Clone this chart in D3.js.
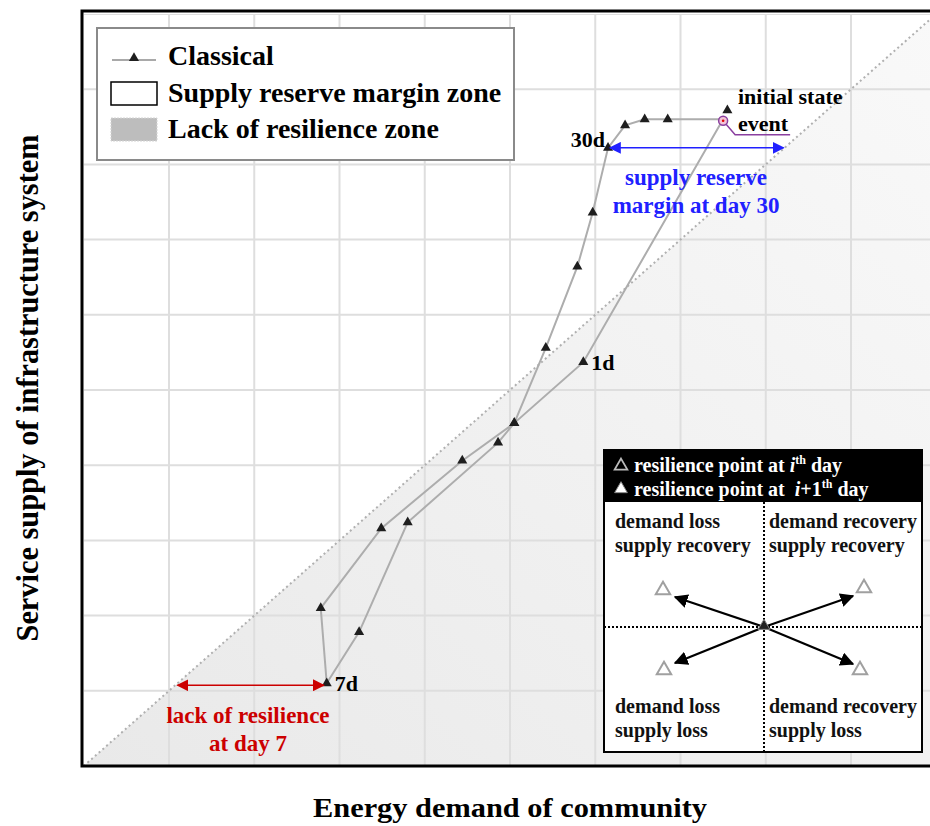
<!DOCTYPE html>
<html><head><meta charset="utf-8">
<script src="https://cdn.jsdelivr.net/npm/d3@7"></script>
<style>
html,body{margin:0;padding:0;background:#fff;overflow:hidden}
text{font-family:"Liberation Serif","Times New Roman",serif;font-weight:bold}
</style></head>
<body>
<svg id="chart" width="930" height="826"></svg>
<script>
// ---- data (demand, supply) in grid units ----
const gridValues = [1,2,3,4,5,6,7,8,9,10];
const classicalDemand = [7.50, 5.86, 5.05, 4.86, 3.80, 3.23, 2.85, 2.78, 3.49, 4.44, 5.05, 5.42, 5.79, 5.97, 6.15, 6.35, 6.58, 6.85, 7.50];
const classicalSupply = [8.60, 5.37, 4.56, 4.30, 3.24, 1.78, 1.10, 2.10, 3.16, 4.06, 4.56, 5.56, 6.64, 7.36, 8.22, 8.52, 8.60, 8.60, 8.60];
const initialState = {demand: 7.55, supply: 8.72};
const eventPoint = {demand: 7.50, supply: 8.58};
const dayLabels = [{label:"1d", idx:1}, {label:"7d", idx:6}, {label:"30d", idx:14}];
const legendItems = ["Classical", "Supply reserve margin zone", "Lack of resilience zone"];
const quadrantLabels = [["demand loss","supply recovery"],["demand recovery","supply recovery"],["demand loss","supply loss"],["demand recovery","supply loss"]];

const svg = d3.select("#chart");
const x = d3.scaleLinear().domain([0,10]).range([83.75, 936.25]);
const y = d3.scaleLinear().domain([0,10]).range([766, 14]);

const defs = svg.append("defs");
const grad = defs.append("linearGradient").attr("id","zone").attr("x1","0").attr("y1","1").attr("x2","1").attr("y2","0");
grad.append("stop").attr("offset","0").attr("stop-color","#e9e9e9");
grad.append("stop").attr("offset","1").attr("stop-color","#f9f9f9");
function arrowMarker(id,color,size){
  const m = defs.append("marker").attr("id",id).attr("viewBox","0 0 10 10").attr("refX",9).attr("refY",5)
    .attr("markerWidth",size).attr("markerHeight",size).attr("orient","auto-start-reverse").attr("markerUnits","userSpaceOnUse");
  m.append("path").attr("d","M0,0 L10,5 L0,10 Z").attr("fill",color);
}
arrowMarker("blueArr","#2020ff",12);
arrowMarker("redArr","#cc0000",12);
arrowMarker("blkArr","#000",14);

const clip = defs.append("clipPath").attr("id","plotclip");
clip.append("rect").attr("x",x(0)).attr("y",y(10)).attr("width",x(10)-x(0)).attr("height",y(0)-y(10));

const plot = svg.append("g").attr("clip-path","url(#plotclip)");
plot.append("path").attr("d",`M${x(0)},${y(0)} L${x(10)},${y(10)} L${x(10)},${y(0)} Z`).attr("fill","url(#zone)");

plot.append("g").selectAll("line").data(gridValues).join("line")
  .attr("x1",d=>x(d)).attr("x2",d=>x(d)).attr("y1",y(0)).attr("y2",y(10))
  .attr("stroke","#dedede").attr("stroke-width",2);
plot.append("g").selectAll("line").data(gridValues).join("line")
  .attr("y1",d=>y(d)).attr("y2",d=>y(d)).attr("x1",x(0)).attr("x2",x(10))
  .attr("stroke","#dedede").attr("stroke-width",2);

plot.append("line").attr("x1",x(0)).attr("y1",y(0)).attr("x2",x(10)).attr("y2",y(10))
  .attr("stroke","#b0b0b0").attr("stroke-width",2).attr("stroke-dasharray","2,3");

svg.append("rect").attr("x",82).attr("y",11).attr("width",900).attr("height",755)
  .attr("fill","none").attr("stroke","#000").attr("stroke-width",3);

// classical path
const pts = classicalDemand.map((d,i)=>[d, classicalSupply[i]]);
svg.append("path").attr("d", d3.line().x(d=>x(d[0])).y(d=>y(d[1]))(pts))
  .attr("fill","none").attr("stroke","#adadad").attr("stroke-width",2);
const tri = d3.symbol().type(d3.symbolTriangle).size(44);
svg.append("g").selectAll("path").data(pts.slice(1, pts.length-1)).join("path")
  .attr("d",tri).attr("transform",d=>`translate(${x(d[0])},${y(d[1])})`).attr("fill","#1e1e1e");
svg.append("path").attr("d",tri).attr("transform",`translate(${x(initialState.demand)},${y(initialState.supply)})`).attr("fill","#1e1e1e");

// event marker & leader
const ex = x(eventPoint.demand), ey = y(eventPoint.supply);
svg.append("polyline").attr("points",`${ex},${ey} ${ex+12},${ey+14} ${ex+67},${ey+14}`)
  .attr("fill","none").attr("stroke","#8a3fa0").attr("stroke-width",1.5);
svg.append("circle").attr("cx",ex).attr("cy",ey).attr("r",4.5).attr("fill","#f4c4d8").attr("stroke","#8a3fa0").attr("stroke-width",1.5);
svg.append("circle").attr("cx",ex).attr("cy",ey).attr("r",1.3).attr("fill","#e00000");
svg.append("text").attr("x",738).attr("y",104).attr("font-size",22).text("initial state");
svg.append("text").attr("x",738).attr("y",131).attr("font-size",22).text("event");

// day labels
dayLabels.forEach(dl=>{
  const p = pts[dl.idx];
  const t = svg.append("text").attr("font-size",22).text(dl.label);
  if (dl.label==="30d") t.attr("x",x(p[0])-3).attr("y",y(p[1])-1).attr("text-anchor","end");
  else t.attr("x",x(p[0])+8).attr("y",y(p[1])+8);
});

// supply reserve margin at day 30
const p30 = pts[14];
svg.append("line").attr("x1",x(p30[0])+2).attr("x2",x(p30[1])-1).attr("y1",y(p30[1])).attr("y2",y(p30[1]))
  .attr("stroke","#2020ff").attr("stroke-width",1.5).attr("marker-start","url(#blueArr)").attr("marker-end","url(#blueArr)");
svg.append("text").attr("x",696).attr("y",185).attr("text-anchor","middle").attr("font-size",23).attr("fill","#2020ff").text("supply reserve");
svg.append("text").attr("x",696).attr("y",213).attr("text-anchor","middle").attr("font-size",23).attr("fill","#2020ff").text("margin at day 30");

// lack of resilience at day 7
const p7 = pts[6];
svg.append("line").attr("x1",x(p7[1])).attr("x2",x(p7[0])-3).attr("y1",y(p7[1])+2).attr("y2",y(p7[1])+2)
  .attr("stroke","#cc0000").attr("stroke-width",1.5).attr("marker-start","url(#redArr)").attr("marker-end","url(#redArr)");
svg.append("text").attr("x",248).attr("y",723).attr("text-anchor","middle").attr("font-size",23).attr("fill","#cc0000").text("lack of resilience");
svg.append("text").attr("x",248).attr("y",751).attr("text-anchor","middle").attr("font-size",23).attr("fill","#cc0000").text("at day 7");

// legend
const lg = svg.append("g");
lg.append("rect").attr("x",97).attr("y",28).attr("width",417).attr("height",132).attr("fill","#fff").attr("stroke","#8a8a8a").attr("stroke-width",2);
lg.append("line").attr("x1",112).attr("x2",156).attr("y1",60).attr("y2",60).attr("stroke","#a9a9a9").attr("stroke-width",2);
lg.append("path").attr("d",tri).attr("transform","translate(134,58)").attr("fill","#1e1e1e");
lg.append("rect").attr("x",111).attr("y",82).attr("width",46).attr("height",23).attr("fill","#fff").attr("stroke","#000").attr("stroke-width",1.5);
lg.append("rect").attr("x",111).attr("y",118).attr("width",46).attr("height",23).attr("fill","#bdbdbd").attr("stroke","#d4d4d4").attr("stroke-width",1).attr("stroke-dasharray","2,1");
legendItems.forEach((t,i)=>{
  lg.append("text").attr("x",168).attr("y",65+i*36.5).attr("font-size",28).text(t);
});

// axis titles
svg.append("text").attr("x",510).attr("y",817).attr("text-anchor","middle").attr("font-size",28).attr("textLength",394).attr("lengthAdjust","spacingAndGlyphs").text("Energy demand of community");
svg.append("text").attr("transform","translate(38,388) rotate(-90)").attr("text-anchor","middle").attr("font-size",32).attr("textLength",507).attr("lengthAdjust","spacingAndGlyphs").text("Service supply of infrastructure system");

// inset explanation box
const ib = svg.append("g");
const bx0=604, by0=450, bx1=922, by1=752, hy=502, cx=764, cy=627;
ib.append("rect").attr("x",bx0).attr("y",by0).attr("width",bx1-bx0).attr("height",by1-by0).attr("fill","#fff").attr("stroke","#000").attr("stroke-width",2);
ib.append("rect").attr("x",bx0).attr("y",by0).attr("width",bx1-bx0).attr("height",hy-by0).attr("fill","#000");
const hollow = d3.symbol().type(d3.symbolTriangle).size(70);
ib.append("path").attr("d",hollow).attr("transform","translate(621,466)").attr("fill","none").attr("stroke","#bbb").attr("stroke-width",1.8);
ib.append("path").attr("d",hollow).attr("transform","translate(621,489)").attr("fill","#fff").attr("stroke","#888").attr("stroke-width",1);
const h1 = ib.append("text").attr("x",634).attr("y",472).attr("font-size",20).attr("fill","#fff");
h1.append("tspan").text("resilience point at ");
h1.append("tspan").attr("font-style","italic").text("i");
h1.append("tspan").attr("font-size",12).attr("dy",-8).text("th");
h1.append("tspan").attr("dy",8).text(" day");
const h2 = ib.append("text").attr("x",634).attr("y",496).attr("font-size",20).attr("fill","#fff");
h2.append("tspan").text("resilience point at");
h2.append("tspan").attr("font-style","italic").attr("dx",10).text("i");
h2.append("tspan").text("+1");
h2.append("tspan").attr("font-size",12).attr("dy",-8).text("th");
h2.append("tspan").attr("dy",8).text(" day");
ib.append("line").attr("x1",cx).attr("x2",cx).attr("y1",hy).attr("y2",by1).attr("stroke","#000").attr("stroke-width",2).attr("stroke-dasharray","2,2");
ib.append("line").attr("x1",bx0).attr("x2",bx1).attr("y1",cy).attr("y2",cy).attr("stroke","#000").attr("stroke-width",2).attr("stroke-dasharray","2,2");
const qpos = [[615,528],[769,528],[615,713],[769,713]];
quadrantLabels.forEach((q,i)=>{
  q.forEach((t,j)=>{
    ib.append("text").attr("x",qpos[i][0]).attr("y",qpos[i][1]+j*24).attr("font-size",20).attr("fill","#111").text(t);
  });
});
const arrowEnds = [[675,597],[853,596],[675,663],[853,664]];
const hollowPos = [[663,590],[864,588],[664,670],[860,670]];
arrowEnds.forEach(a=>{
  ib.append("line").attr("x1",cx).attr("y1",cy).attr("x2",a[0]).attr("y2",a[1]).attr("stroke","#000").attr("stroke-width",2.2).attr("marker-end","url(#blkArr)");
});
hollowPos.forEach(p=>{
  ib.append("path").attr("d",d3.symbol().type(d3.symbolTriangle).size(90)).attr("transform",`translate(${p[0]},${p[1]})`).attr("fill","none").attr("stroke","#a0a0a0").attr("stroke-width",2);
});
ib.append("path").attr("d",d3.symbol().type(d3.symbolTriangle).size(60)).attr("transform",`translate(${cx},${cy-1})`).attr("fill","#222").attr("stroke","#888").attr("stroke-width",1);
</script>
</body></html>
